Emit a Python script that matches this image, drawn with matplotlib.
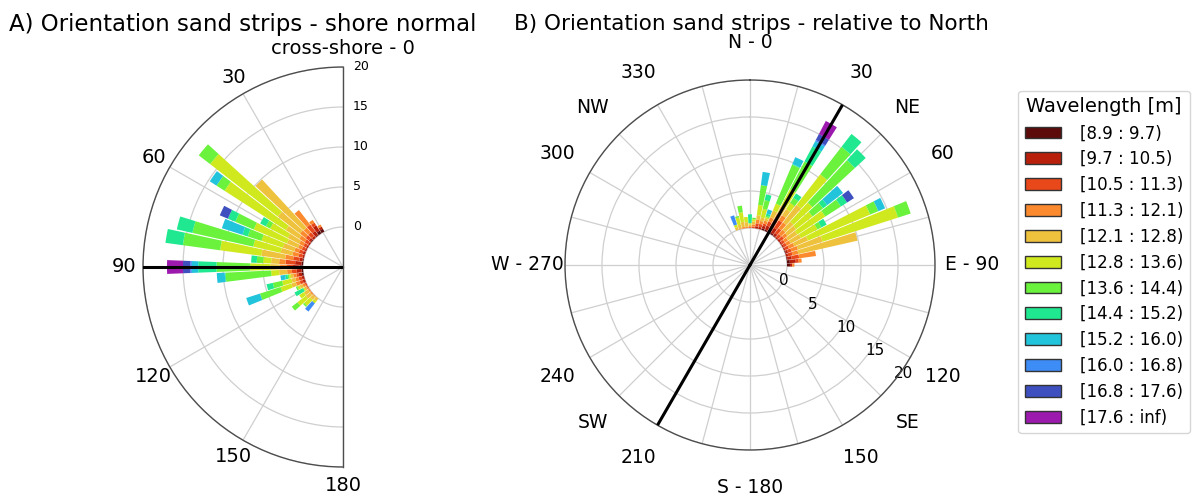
import numpy as np
import matplotlib
matplotlib.use("Agg")
import matplotlib.pyplot as plt
from matplotlib.patches import Rectangle

# Sector centres in the shore-normal frame (degrees, 0 = cross-shore)
directions = [30, 35, 40, 45, 50, 55, 60, 65, 70, 75, 80, 85, 90,
              95, 100, 105, 110, 115, 120, 125, 130, 135, 140]
shore_normal_bearing = 120   # bearing (deg from North) of cross-shore 0
alongshore_bearing = 30      # reference line drawn in panel B
sector_width = 5

class_labels = ["[8.9 : 9.7)", "[9.7 : 10.5)", "[10.5 : 11.3)", "[11.3 : 12.1)",
                "[12.1 : 12.8)", "[12.8 : 13.6)", "[13.6 : 14.4)", "[14.4 : 15.2)",
                "[15.2 : 16.0)", "[16.0 : 16.8)", "[16.8 : 17.6)", "[17.6 : inf)"]
class_colors = ["#5c0a0a", "#b8200c", "#e8481a", "#fb8a2e", "#efc23e", "#d0e81e",
                "#6af23c", "#20e890", "#22c4dc", "#3e8cf6", "#3e50c0", "#9c1aae"]

# Frequency (%) per sector for each wavelength class
wl_089_097 = [0.4, 0.4, 0.1, 0.0, 0.1, 0.0, 0.0, 0.0, 0.0, 0.0, 0.1, 0.2, 0.4,
              0.2, 0.2, 0.0, 0.0, 0.0, 0.0, 0.0, 0.0, 0.0, 0.0]
wl_097_105 = [0.3, 0.8, 0.6, 0.3, 0.3, 0.2, 0.2, 0.2, 0.3, 0.2, 0.4, 0.8, 0.85,
              0.6, 0.4, 0.3, 0.3, 0.0, 0.0, 0.0, 0.0, 0.0, 0.0]
wl_105_113 = [0.0, 0.4, 1.0, 0.6, 0.5, 0.5, 0.4, 0.4, 0.5, 0.5, 0.8, 1.2, 0.75,
              0.6, 0.3, 0.4, 0.4, 0.2, 0.1, 0.0, 0.0, 0.0, 0.0]
wl_113_121 = [0.3, 0.4, 2.3, 0.8, 0.9, 0.8, 0.6, 0.5, 0.6, 0.8, 1.0, 0.8, 0.9,
              0.6, 0.4, 0.4, 0.5, 0.3, 0.15, 0.2, 0.2, 0.1, 0.0]
wl_121_128 = [0.0, 0.0, 0.0, 8.2, 3.5, 2.0, 1.6, 1.5, 1.5, 1.5, 3.0, 1.0, 1.2,
              1.0, 0.3, 0.5, 0.6, 0.4, 0.2, 0.6, 0.7, 0.5, 0.4]
wl_128_136 = [0.0, 0.0, 0.0, 0.0, 10.7, 9.1, 2.5, 4.5, 2.8, 3.5, 5.2, 1.0, 2.5,
              1.0, 0.2, 1.2, 1.4, 0.3, 0.2, 0.7, 1.3, 1.0, 0.35]
wl_136_144 = [0.0, 0.0, 0.0, 0.0, 1.8, 1.2, 0.6, 2.5, 1.8, 7.8, 4.7, 0.8, 4.2,
              5.7, 0.2, 1.2, 2.7, 0.2, 0.0, 0.0, 0.9, 0.2, 0.0]
wl_144_152 = [0.0, 0.0, 0.0, 0.0, 0.0, 0.0, 0.8, 1.0, 0.7, 2.0, 2.2, 0.7, 2.3,
              0.1, 0.3, 0.8, 0.0, 0.0, 1.2, 0.0, 0.0, 0.0, 0.0]
wl_152_160 = [0.0, 0.0, 0.0, 0.0, 0.0, 1.0, 0.0, 0.0, 2.7, 0.0, 0.0, 0.0, 0.8,
              1.0, 0.6, 0.0, 1.8, 0.0, 0.0, 0.0, 0.0, 0.0, 0.0]
wl_160_168 = [0.0, 0.0, 0.0, 0.0, 0.0, 0.0, 0.0, 0.0, 0.0, 0.0, 0.0, 0.0, 0.2,
              0.0, 0.0, 0.0, 0.0, 0.0, 0.0, 0.0, 0.0, 0.0, 1.3]
wl_168_176 = [0.0, 0.0, 0.0, 0.0, 0.0, 0.0, 0.0, 1.1, 0.0, 0.0, 0.0, 0.0, 0.9,
              0.0, 0.0, 0.0, 0.0, 0.0, 0.0, 0.0, 0.0, 0.0, 0.0]
wl_176_inf = [0.0, 0.0, 0.0, 0.0, 0.0, 0.0, 0.0, 0.0, 0.0, 0.0, 0.0, 0.0, 2.0,
              0.0, 0.0, 0.0, 0.0, 0.0, 0.0, 0.0, 0.0, 0.0, 0.0]

class_freqs = [wl_089_097, wl_097_105, wl_105_113, wl_113_121, wl_121_128, wl_128_136,
               wl_136_144, wl_144_152, wl_152_160, wl_160_168, wl_168_176, wl_176_inf]

r_ticks = [0, 5, 10, 15, 20]
calm_offset = 5          # radial offset of the bar bases
grid_color = "#cfcfcf"
spine_color = "#4d4d4d"


def draw_rose(ax, theta_deg):
    theta = np.deg2rad(theta_deg)
    width = np.deg2rad(sector_width) * 0.9
    base = np.full(len(theta_deg), float(calm_offset))
    for freqs, color in zip(class_freqs, class_colors):
        h = np.asarray(freqs, dtype=float)
        ax.bar(theta, h, width=width, bottom=base, color=color,
               linewidth=0, zorder=2)
        base = base + h
    ax.set_ylim(0, calm_offset + r_ticks[-1])
    ax.set_yticks([calm_offset + r for r in r_ticks])
    ax.set_yticklabels([str(r) for r in r_ticks])
    ax.grid(True, color=grid_color, linewidth=0.9, zorder=0)
    ax.set_axisbelow(True)
    for sp in ax.spines.values():
        sp.set_color(spine_color)
        sp.set_linewidth(1.0)


fig = plt.figure(figsize=(12, 4.95), dpi=100)

# Panel A: shore-normal frame, half rose (square box; the half disc fills its left half)
axA = fig.add_axes([43 / 1200, 28 / 495, 400 / 1200, 400 / 495], projection="polar")
axA.set_theta_zero_location("N")
axA.set_theta_direction(1)
axA.set_thetamin(0)
axA.set_thetamax(180)
draw_rose(axA, np.asarray(directions, dtype=float))
axA.set_thetagrids([0, 30, 60, 90, 120, 150, 180],
                   ["cross-shore - 0", "30", "60", "90", "120", "150", "180"],
                   fontsize=14)
axA.tick_params(axis="x", pad=3)
axA.tick_params(axis="y", labelsize=9)
axA.plot(np.deg2rad([90, 90]), [0, calm_offset + r_ticks[-1]], color="black",
         linewidth=2.2, zorder=5)

# Panel B: same sectors rotated to bearings relative to North
axB = fig.add_axes([565 / 1200, 45 / 495, 370 / 1200, 370 / 495], projection="polar")
axB.set_theta_zero_location("N")
axB.set_theta_direction(-1)
bearings = (shore_normal_bearing - np.asarray(directions, dtype=float)) % 360
draw_rose(axB, bearings)
grid_angles = list(range(0, 360, 15))
named = {0: "N - 0", 30: "30", 45: "NE", 60: "60", 90: "E - 90", 120: "120",
         135: "SE", 150: "150", 180: "S - 180", 210: "210", 225: "SW", 240: "240",
         270: "W - 270", 300: "300", 315: "NW", 330: "330"}
axB.set_thetagrids(grid_angles, [named.get(a, "") for a in grid_angles], fontsize=13.5)
axB.tick_params(axis="x", pad=16.5)
axB.tick_params(axis="y", labelsize=11)
axB.set_rlabel_position(129)
axB.plot(np.deg2rad([alongshore_bearing, alongshore_bearing]),
         [0, calm_offset + r_ticks[-1]], color="black", linewidth=2.2, zorder=5)
axB.plot(np.deg2rad([alongshore_bearing + 180, alongshore_bearing + 180]),
         [0, calm_offset + r_ticks[-1]], color="black", linewidth=2.2, zorder=5)

fig.text(243 / 1200, 1 - 31 / 495, "A) Orientation sand strips - shore normal",
         ha="center", va="baseline", fontsize=16.5)
fig.text(751 / 1200, 1 - 30 / 495, "B) Orientation sand strips - relative to North",
         ha="center", va="baseline", fontsize=15.5)

handles = [Rectangle((0, 0), 1, 1, facecolor=c, edgecolor="#333333", linewidth=1)
           for c in class_colors]
fig.legend(handles, class_labels, title="Wavelength [m]", loc="center left",
           bbox_to_anchor=(1010 / 1200, (495 - 262) / 495), fontsize=12,
           title_fontsize=14, frameon=True, labelspacing=0.47, handlelength=2.15,
           handletextpad=1.15)

fig.savefig("out.png", dpi=100)
